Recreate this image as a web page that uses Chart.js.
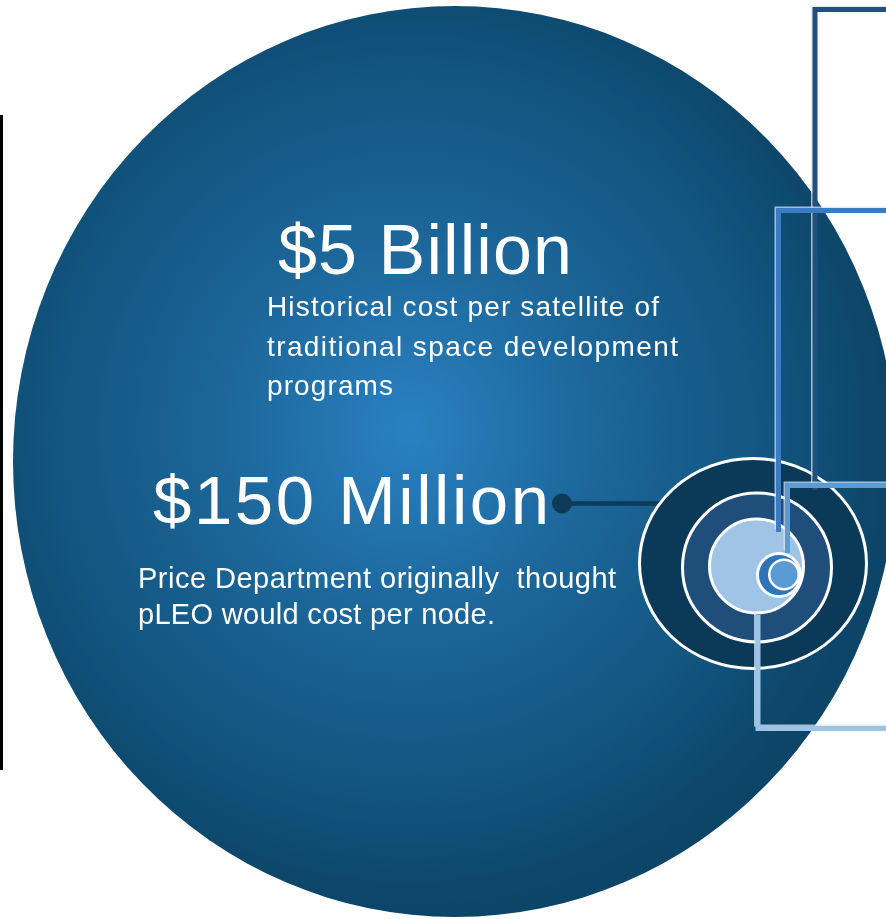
<!DOCTYPE html>
<html>
<head>
<meta charset="utf-8">
<script src="https://cdn.jsdelivr.net/npm/chart.js@4.4.1/dist/chart.umd.min.js"></script>
<style>
  html, body { margin: 0; padding: 0; background: #ffffff; }
  #wrap { position: relative; width: 886px; height: 919px; }
</style>
</head>
<body>
<div id="wrap"><canvas id="c"></canvas></div>
<script>
// ---------------- DATA ----------------
const headlineLabels = ['$5 Billion', '$150 Million'];
const costValuesMillionUSD = [5000, 150];
const descriptionLines5B = ['Historical cost per satellite of', 'traditional space development', 'programs'];
const descriptionLines150M = ['Price Department originally  thought', 'pLEO would cost per node.'];
const targetRings = ['outer ring', 'middle ring', 'inner disc', 'node', 'core'];

// ---------------- LAYOUT (geometry / styles only) ----------------
const W = 886, H = 919;
const FONT = '"Liberation Sans", Arial, sans-serif';
const layout = {
  backdrop: { x: 455, y: 461.5, rx: 442, ry: 455.5, gx: 410, gy: 430, gr: 480 },
  rings: [
    { x: 753, y: 563.5, rx: 115, ry: 106.5, fill: '#0b3a58', sw: 3 },
    { x: 757, y: 567.5, r: 76, fill: '#1f4e7b', sw: 3 },
    { x: 756.5, y: 566, r: 48.5, fill: '#9fc4e6', sw: 3 },
    { x: 779, y: 575, r: 23, fill: '#2f73b8', sw: 3 },
    { x: 784, y: 574.5, r: 16, fill: '#5b9bd5', sw: 2.5 }
  ],
  headlines: [
    { x: 278, base: 274, size: 70, w: 294 },
    { x: 153, base: 524, size: 69, w: 396 }
  ],
  desc5B: { x: 267, base: 316, lh: 39.5, size: 28, w: [392, 411, 126] },
  desc150M: { x: 138, base: 588, lh: 35.5, size: 29, w: [478, 357] },
  dot: { x: 562, y: 503.5, r: 10, x2: 662, color: '#0c3a58', lw: 4.5 },
  connectors: [
    { pts: [[900, 9.5], [815, 9.5], [815, 490]], color: '#22507e', lw: 5, edge: true },
    { pts: [[900, 210.5], [778.5, 210.5], [778.5, 532]], color: '#3a7bc3', lw: 5, edge: true },
    { pts: [[900, 485.5], [787.5, 485.5], [787.5, 553]], color: '#5b9bd5', lw: 5, edge: true },
    { pts: [[758, 615], [758, 728.5], [900, 728.5]], color: '#9dc3e6', lw: 5, edge: true }
  ],
  leftRule: { x: 1.5, y1: 115, y2: 770, lw: 3, color: '#000000' }
};

function sprite(rx, ry, paint) {
  const c = document.createElement('canvas');
  const pad = 4;
  c.width = Math.round(2 * rx + 2 * pad);
  c.height = Math.round(2 * ry + 2 * pad);
  paint(c.getContext('2d'), c.width / 2, c.height / 2);
  return c;
}

const b = layout.backdrop;
const backdropSprite = sprite(b.rx, b.ry, (g, cx, cy) => {
  const gx = b.gx - b.x + cx, gy = b.gy - b.y + cy;
  const grad = g.createRadialGradient(gx, gy, 0, gx, gy, b.gr);
  grad.addColorStop(0, '#2a81c2');
  grad.addColorStop(0.4, '#1c6699');
  grad.addColorStop(0.75, '#125580');
  grad.addColorStop(1, '#0c4567');
  g.beginPath();
  g.ellipse(cx, cy, b.rx, b.ry, 0, 0, Math.PI * 2);
  g.fillStyle = grad;
  g.fill();
});

const o = layout.rings[0];
const outerRingSprite = sprite(o.rx, o.ry, (g, cx, cy) => {
  g.beginPath();
  g.ellipse(cx, cy, o.rx - o.sw / 2, o.ry - o.sw / 2, 0, 0, Math.PI * 2);
  g.fillStyle = o.fill;
  g.fill();
  g.lineWidth = o.sw;
  g.strokeStyle = '#ffffff';
  g.stroke();
});

const datasets = [];
datasets.push({
  role: 'backdrop', label: 'backdrop', order: 100, clip: false,
  data: [{ x: b.x, y: b.y }],
  pointStyle: backdropSprite, pointRadius: 5
});
targetRings.forEach((name, i) => {
  const r = layout.rings[i];
  if (i === 0) {
    datasets.push({
      role: 'ring', label: name, order: 90 - i, clip: false,
      data: [{ x: r.x, y: r.y }],
      pointStyle: outerRingSprite, pointRadius: 5
    });
  } else {
    datasets.push({
      role: 'ring', label: name, order: 90 - i, clip: false,
      data: [{ x: r.x, y: r.y }],
      pointStyle: 'circle',
      pointRadius: r.r - r.sw / 2,
      pointBackgroundColor: r.fill,
      pointBorderColor: '#ffffff',
      pointBorderWidth: r.sw
    });
  }
});

function drawFitted(ctx, text, x, base, size, targetW) {
  ctx.font = size + 'px ' + FONT;
  const hasLS = 'letterSpacing' in ctx;
  if (hasLS) ctx.letterSpacing = '0px';
  const w0 = ctx.measureText(text).width;
  const n = Array.from(text).length;
  if (hasLS && n > 1) {
    const sp = (targetW - w0) / (n - 1);
    ctx.letterSpacing = sp.toFixed(2) + 'px';
    ctx.fillText(text, x, base);
    ctx.letterSpacing = '0px';
  } else {
    ctx.save();
    ctx.translate(x, base);
    ctx.scale(targetW / w0, 1);
    ctx.fillText(text, 0, 0);
    ctx.restore();
  }
}

const overlay = {
  id: 'overlay',
  afterDatasetDraw(chart, args) {
    const ds = chart.data.datasets[args.index];
    if (ds.role !== 'backdrop') return;
    const ctx = chart.ctx;
    const px = v => chart.scales.x.getPixelForValue(v);
    const py = v => chart.scales.y.getPixelForValue(v);
    ctx.save();
    ctx.fillStyle = '#ffffff';
    ctx.textBaseline = 'alphabetic';
    ctx.textAlign = 'left';
    headlineLabels.forEach((t, i) => {
      const L = layout.headlines[i];
      drawFitted(ctx, t, px(L.x), py(L.base), L.size, L.w);
    });
    const d1 = layout.desc5B;
    descriptionLines5B.forEach((t, i) => drawFitted(ctx, t, px(d1.x), py(d1.base + i * d1.lh), d1.size, d1.w[i]));
    const d2 = layout.desc150M;
    descriptionLines150M.forEach((t, i) => drawFitted(ctx, t, px(d2.x), py(d2.base + i * d2.lh), d2.size, d2.w[i]));
    const D = layout.dot;
    ctx.strokeStyle = D.color;
    ctx.lineWidth = D.lw;
    ctx.beginPath();
    ctx.moveTo(px(D.x), py(D.y));
    ctx.lineTo(px(D.x2), py(D.y));
    ctx.stroke();
    ctx.fillStyle = D.color;
    ctx.beginPath();
    ctx.arc(px(D.x), py(D.y), D.r, 0, Math.PI * 2);
    ctx.fill();
    ctx.restore();
  },
  afterDatasetsDraw(chart) {
    const ctx = chart.ctx;
    const px = v => chart.scales.x.getPixelForValue(v);
    const py = v => chart.scales.y.getPixelForValue(v);
    ctx.save();
    ctx.lineCap = 'butt';
    ctx.lineJoin = 'miter';
    layout.connectors.forEach(cn => {
      if (cn.edge) {
        ctx.strokeStyle = 'rgba(215,228,240,0.75)';
        ctx.lineWidth = 2;
        ctx.beginPath();
        cn.pts.forEach((p, i) => {
          const X = px(p[0]) - 3, Y = py(p[1]) - 3;
          i ? ctx.lineTo(X, Y) : ctx.moveTo(X, Y);
        });
        ctx.stroke();
      }
      ctx.strokeStyle = cn.color;
      ctx.lineWidth = cn.lw;
      ctx.beginPath();
      cn.pts.forEach((p, i) => {
        const X = px(p[0]), Y = py(p[1]);
        i ? ctx.lineTo(X, Y) : ctx.moveTo(X, Y);
      });
      ctx.stroke();
    });
    const R = layout.leftRule;
    ctx.strokeStyle = R.color;
    ctx.lineWidth = R.lw;
    ctx.beginPath();
    ctx.moveTo(px(R.x), py(R.y1));
    ctx.lineTo(px(R.x), py(R.y2));
    ctx.stroke();
    ctx.restore();
  }
};

new Chart(document.getElementById('c'), {
  type: 'scatter',
  data: { datasets },
  options: {
    responsive: true,
    maintainAspectRatio: false,
    animation: false,
    events: [],
    layout: { padding: 0, autoPadding: false },
    plugins: { legend: { display: false }, tooltip: { enabled: false } },
    scales: {
      x: { type: 'linear', min: 0, max: W, display: false },
      y: { type: 'linear', min: 0, max: H, reverse: true, display: false }
    }
  },
  plugins: [overlay]
});
</script>
</body>
</html>
